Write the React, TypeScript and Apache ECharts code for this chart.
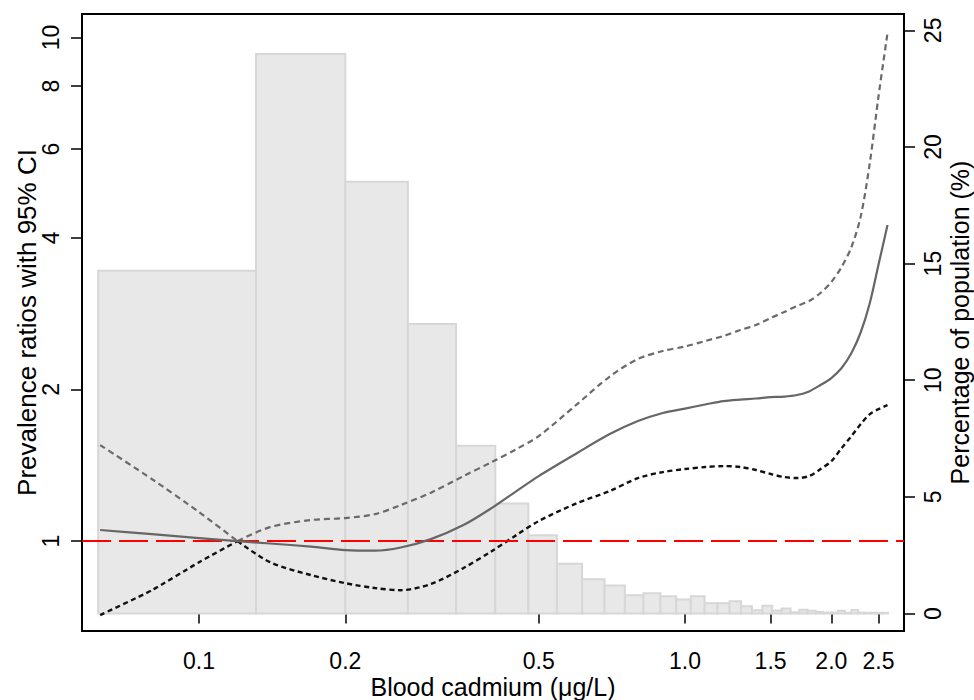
import React, { useEffect, useRef } from "react";
import * as echarts from "echarts";

// Blood cadmium grid (µg/L) at which the spline curves are read
const cadmium = [0.0626, 0.08, 0.1, 0.12, 0.14, 0.17, 0.2, 0.23, 0.26, 0.3, 0.35, 0.4, 0.45, 0.5, 0.6, 0.7, 0.8, 0.9, 1.0, 1.1, 1.2, 1.3, 1.4, 1.5, 1.6, 1.7, 1.8, 1.9, 2.0, 2.1, 2.2, 2.3, 2.4, 2.5, 2.61];
// Prevalence ratio (solid) and 95% CI bounds
const prevalenceRatio = [1.052, 1.032, 1.014, 1.0, 0.989, 0.975, 0.96, 0.957, 0.971, 1.009, 1.076, 1.163, 1.257, 1.346, 1.496, 1.631, 1.731, 1.796, 1.833, 1.867, 1.897, 1.91, 1.919, 1.932, 1.936, 1.95, 1.982, 2.041, 2.107, 2.206, 2.362, 2.601, 2.97, 3.533, 4.243];
const upperCI = [1.551, 1.328, 1.142, 1.0, 1.066, 1.101, 1.111, 1.131, 1.179, 1.248, 1.346, 1.435, 1.523, 1.616, 1.871, 2.122, 2.299, 2.385, 2.434, 2.496, 2.554, 2.625, 2.685, 2.773, 2.85, 2.929, 2.997, 3.109, 3.269, 3.502, 3.836, 4.42, 5.633, 7.617, 10.21];
const lowerCI = [0.713, 0.799, 0.908, 1.0, 0.908, 0.856, 0.825, 0.807, 0.799, 0.822, 0.884, 0.955, 1.028, 1.096, 1.19, 1.257, 1.334, 1.371, 1.39, 1.403, 1.409, 1.403, 1.384, 1.359, 1.34, 1.334, 1.346, 1.39, 1.441, 1.53, 1.616, 1.708, 1.787, 1.828, 1.862];
// index of the point where the confidence band pinches to the reference (0.12 µg/L)
const pinchIndex = 3;

// Histogram bins (µg/L) and share of population (%)
const binEdges = [0.062, 0.131, 0.2, 0.269, 0.338, 0.407, 0.476, 0.545, 0.614, 0.683, 0.752, 0.821, 0.89, 0.959, 1.028, 1.097, 1.166, 1.235, 1.304, 1.373, 1.442, 1.511, 1.58, 1.649, 1.718, 1.787, 1.856, 1.925, 1.994, 2.063, 2.132, 2.201, 2.27, 2.339, 2.408, 2.477, 2.546, 2.615];
const populationPercent = [14.69, 23.98, 18.51, 12.41, 7.19, 4.72, 3.36, 2.13, 1.47, 1.2, 0.78, 0.87, 0.74, 0.6, 0.74, 0.44, 0.44, 0.52, 0.31, 0.14, 0.33, 0.13, 0.21, 0.05, 0.16, 0.12, 0.07, 0.04, 0.04, 0.12, 0.03, 0.15, 0.04, 0.03, 0.03, 0.03, 0.03];

// Tick labels
const xTicks = [0.1, 0.2, 0.5, 1.0, 1.5, 2.0, 2.5];
const prTicks = [1, 2, 4, 6, 8, 10];
const pctTicks = [0, 5, 10, 15, 20, 25];
const referenceRatio = 1;

export default function App() {
  const ref = useRef<HTMLDivElement>(null);
  useEffect(() => {
    const chart = echarts.init(ref.current!, null, { renderer: "svg" });
    const font = "'Liberation Sans', Arial, Helvetica, sans-serif";
    const histData = populationPercent.map((p, i) => [binEdges[i], binEdges[i + 1], p]);
    const pair = (arr: number[], from: number, to: number) =>
      cadmium.slice(from, to).map((c, i) => [c, arr[from + i]]);
    const tickLine = { color: "#000", width: 1.5 };
    const upperStyle = { color: "#6a6a6a", width: 2.2, type: [6, 4] };
    const lowerStyle = { color: "#111", width: 2.4, type: [5, 3.5] };
    const n = cadmium.length;
    const ciSeries = (name: string, arr: number[], style: any) => [
      { type: "line", name, data: pair(arr, 0, pinchIndex + 1), showSymbol: false, smooth: 0.2, z: 4, lineStyle: style },
      { type: "line", name, data: pair(arr, pinchIndex, n), showSymbol: false, smooth: 0.3, z: 4, lineStyle: style },
    ];
    chart.setOption({
      animation: false,
      backgroundColor: "#fff",
      grid: {
        left: 82, right: 70, top: 14, bottom: 69,
        outerBoundsMode: "none",
        containLabel: false,
        show: true, borderColor: "#000", borderWidth: 2, backgroundColor: "transparent",
      },
      xAxis: {
        type: "log", logBase: 10, min: 0.05744, max: 2.822,
        name: "Blood cadmium (μg/L)", nameLocation: "middle", nameGap: 43, nameMoveOverlap: false,
        nameTextStyle: { fontFamily: font, fontSize: 25, color: "#000" },
        axisLine: { show: false },
        axisTick: { show: true, length: 10, customValues: xTicks, lineStyle: tickLine },
        axisLabel: {
          customValues: xTicks, fontFamily: font, fontSize: 23, color: "#000", margin: 18,
          formatter: (v: number) => {
            const r = Math.round(v * 10) / 10;
            return r >= 1 ? r.toFixed(1) : String(r);
          },
        },
        splitLine: { show: false },
        minorTick: { show: false },
      },
      yAxis: [
        {
          type: "log", logBase: 10, min: 0.663, max: 11.13, position: "left",
          name: "Prevalence ratios with 95% CI", nameLocation: "middle", nameRotate: 90, nameGap: 42,
          nameMoveOverlap: false,
          nameTextStyle: { fontFamily: font, fontSize: 26, color: "#000" },
          axisLine: { show: false },
          axisTick: { show: true, length: 11, customValues: prTicks, lineStyle: tickLine },
          axisLabel: {
            customValues: prTicks, rotate: 90, margin: 20, fontFamily: font, fontSize: 23, color: "#000",
            formatter: (v: number) => String(Math.round(v)),
          },
          splitLine: { show: false },
          minorTick: { show: false },
        },
        {
          type: "value", min: -0.75, max: 25.7, position: "right",
          name: "Percentage of population (%)", nameLocation: "middle", nameRotate: 90, nameGap: 43,
          nameMoveOverlap: false,
          nameTextStyle: { fontFamily: font, fontSize: 25, color: "#000" },
          axisLine: { show: false },
          axisTick: { show: true, length: 11, customValues: pctTicks, lineStyle: tickLine },
          axisLabel: {
            customValues: pctTicks, rotate: 90, margin: 17, fontFamily: font, fontSize: 23, color: "#000",
            formatter: (v: number) => String(Math.round(v)),
          },
          splitLine: { show: false },
        },
      ],
      series: [
        {
          type: "custom",
          name: "Population",
          coordinateSystem: "cartesian2d",
          xAxisIndex: 0,
          yAxisIndex: 1,
          encode: { x: [0, 1], y: 2 },
          data: histData,
          z: 1,
          renderItem: (_params: any, api: any) => {
            const p0 = api.coord([api.value(0), api.value(2)]);
            const p1 = api.coord([api.value(1), 0]);
            return {
              type: "rect",
              shape: { x: p0[0], y: p0[1], width: p1[0] - p0[0], height: p1[1] - p0[1] },
              style: { fill: "#e8e8e8", stroke: "#d7d7d7", lineWidth: 2 },
            };
          },
        },
        {
          type: "line",
          name: "Reference",
          xAxisIndex: 0,
          yAxisIndex: 0,
          data: [],
          z: 3,
          markLine: {
            silent: true,
            symbol: "none",
            label: { show: false },
            lineStyle: { color: "#ff0000", width: 2, type: [29, 8] },
            data: [{ yAxis: referenceRatio }],
          },
        },
        ...ciSeries("Upper 95% CI", upperCI, upperStyle),
        ...ciSeries("Lower 95% CI", lowerCI, lowerStyle),
        {
          type: "line",
          name: "Prevalence ratio",
          data: pair(prevalenceRatio, 0, n),
          showSymbol: false,
          smooth: 0.3,
          z: 5,
          lineStyle: { color: "#666", width: 2.2 },
        },
      ],
    });
    return () => chart.dispose();
  }, []);
  return <div ref={ref} style={{ position: "fixed", left: 0, top: 0, width: 974, height: 700 }} />;
}
